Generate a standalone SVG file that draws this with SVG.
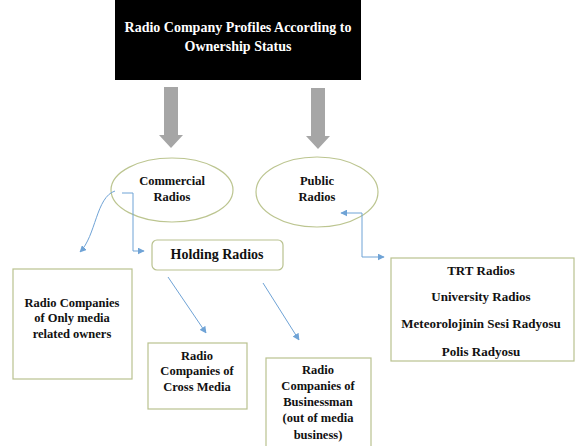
<svg xmlns="http://www.w3.org/2000/svg" width="577" height="446" viewBox="0 0 577 446">
<style>
text{font-family:"Liberation Serif","DejaVu Serif",serif;font-weight:bold;fill:#111;text-anchor:middle}
.t{font-size:14px;fill:#fff}
.n{font-size:12.5px}
.h{font-size:14px}
.l{font-size:13px}
.ell{fill:#fff;stroke:#bcc590;stroke-width:1.2}
.box{fill:#fff;stroke:#b9c28f;stroke-width:1.2}
.c{fill:none;stroke:#6fa3d6;stroke-width:1}
.g{fill:#a6a6a6}
</style>
<defs>
<marker id="ah" viewBox="0 0 10 10" refX="9" refY="5" markerWidth="7" markerHeight="7" orient="auto-start-reverse" markerUnits="userSpaceOnUse">
<path d="M0,0 L10,5 L0,10 z" fill="#6fa3d6"/>
</marker>
</defs>
<rect width="577" height="446" fill="#fff"/>
<g id="title">
<rect x="115" y="0" width="246" height="80" fill="#000"/>
<text class="t" x="238" y="32">Radio Company Profiles According to</text>
<text class="t" x="238" y="51">Ownership Status</text>
</g>
<g id="arrows-gray">
<path class="g" d="M164,87 H178 V135 H183 L171,148 L159,135 H164 Z"/>
<path class="g" d="M311,88 H325 V136 H330 L318,149 L306,136 H311 Z"/>
</g>
<g id="commercial">
<ellipse class="ell" cx="172" cy="190" rx="61" ry="32"/>
<text class="n" x="172" y="185">Commercial</text>
<text class="n" x="172" y="201">Radios</text>
</g>
<g id="public">
<ellipse class="ell" cx="317" cy="192" rx="61" ry="35"/>
<text class="n" x="317" y="185">Public</text>
<text class="n" x="317" y="201">Radios</text>
</g>
<g id="holding">
<rect class="box" x="152" y="240" width="131" height="30" rx="5"/>
<text class="h" x="217" y="259">Holding Radios</text>
</g>
<g id="only-media">
<rect class="box" x="13" y="269" width="119" height="110"/>
<text class="n" x="72" y="307">Radio Companies</text>
<text class="n" x="72" y="322">of Only media</text>
<text class="n" x="72" y="338">related owners</text>
</g>
<g id="cross-media">
<rect class="box" x="148" y="343" width="99" height="66"/>
<text class="n" x="197" y="360">Radio</text>
<text class="n" x="197" y="375">Companies of</text>
<text class="n" x="197" y="391">Cross Media</text>
</g>
<g id="businessman">
<rect class="box" x="266" y="358" width="105" height="92"/>
<text class="n" x="318" y="374">Radio</text>
<text class="n" x="318" y="390">Companies of</text>
<text class="n" x="318" y="406">Businessman</text>
<text class="n" x="318" y="422">(out of media</text>
<text class="n" x="318" y="439">business)</text>
</g>
<g id="public-list">
<rect class="box" x="391" y="258" width="183" height="103"/>
<text class="l" x="481" y="275">TRT Radios</text>
<text class="l" x="481" y="301">University Radios</text>
<text class="l" x="481" y="328">Meteorolojinin Sesi Radyosu</text>
<text class="l" x="481" y="356">Polis Radyosu</text>
</g>
<g id="connectors">
<path class="c" d="M115,191 C96,197 96,236 80,252" marker-end="url(#ah)"/>
<path class="c" d="M122,193 H133 V251 H144" marker-end="url(#ah)"/>
<path class="c" d="M168,277 L206,333" marker-end="url(#ah)"/>
<path class="c" d="M263,283 L299,340" marker-end="url(#ah)"/>
<path class="c" d="M341,213 H362 V257 H384" marker-start="url(#ah)" marker-end="url(#ah)"/>
</g>
</svg>
